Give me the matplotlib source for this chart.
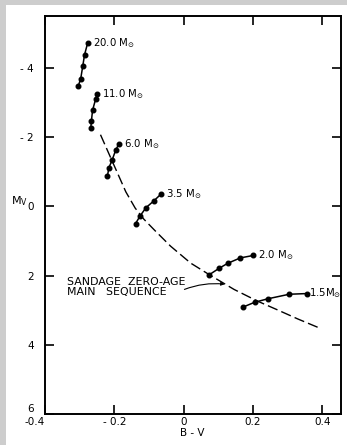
import matplotlib
matplotlib.use("Agg")
import matplotlib.pyplot as plt
from matplotlib.patches import Rectangle

# ---- data ----
bv_20 = [-0.277, -0.286, -0.291, -0.297, -0.304]
mv_20 = [-4.72, -4.38, -4.06, -3.69, -3.48]
bv_11 = [-0.249, -0.254, -0.263, -0.266, -0.268]
mv_11 = [-3.25, -3.10, -2.77, -2.48, -2.26]
bv_6 = [-0.187, -0.196, -0.206, -0.216, -0.220]
mv_6 = [-1.80, -1.63, -1.35, -1.11, -0.87]
bv_35 = [-0.066, -0.086, -0.109, -0.126, -0.139]
mv_35 = [-0.35, -0.16, 0.04, 0.28, 0.50]
bv_2 = [0.200, 0.163, 0.127, 0.102, 0.073]
mv_2 = [1.42, 1.49, 1.645, 1.79, 1.98]
bv_15 = [0.355, 0.304, 0.243, 0.205, 0.171]
mv_15 = [2.52, 2.54, 2.67, 2.77, 2.91]

zams_bv = [-0.240, -0.206, -0.167, -0.140, -0.115, -0.085, -0.038, 0.020,
           0.073, 0.145, 0.213, 0.270, 0.328, 0.390]
zams_mv = [-2.07, -1.30, -0.42, 0.05, 0.37, 0.68, 1.15, 1.64,
           1.97, 2.40, 2.74, 2.99, 3.25, 3.51]

track_labels = ["20.0", "11.0", "6.0", "3.5", "2.0", "1.5"]
tracks_bv = [bv_20, bv_11, bv_6, bv_35, bv_2, bv_15]
tracks_mv = [mv_20, mv_11, mv_6, mv_35, mv_2, mv_15]

xticks = [-0.4, -0.2, 0.0, 0.2, 0.4]
xtick_labels = ["-0.4", "- 0.2", "0", "0.2", "0.4"]
yticks = [-4, -2, 0, 2, 4, 6]
ytick_labels = ["- 4", "- 2", "0", "2", "4", "6"]

# ---- figure ----
fig = plt.figure(figsize=(3.47, 4.45), dpi=100)
fig.patch.set_facecolor("white")
# grey scan border on left and top
fig.patches.append(Rectangle((0, 0), 6 / 347, 1, transform=fig.transFigure,
                             facecolor="#cdcdcd", edgecolor="none", zorder=0))
fig.patches.append(Rectangle((0, 1 - 5 / 445), 1, 5 / 445, transform=fig.transFigure,
                             facecolor="#cdcdcd", edgecolor="none", zorder=0))

ax = fig.add_axes([45 / 347, 1 - 414 / 445, (340.5 - 45) / 347, (414 - 16) / 445])
ax.set_xlim(-0.4, 0.452)
ax.set_ylim(6, -5.5)

# ZAMS dashed line
ax.plot(zams_bv, zams_mv, color="black", lw=1.0, dashes=(7.5, 3))

# evolutionary tracks
for lab, bv, mv in zip(track_labels, tracks_bv, tracks_mv):
    ax.plot(bv, mv, color="black", lw=1.1, marker="o", ms=3.3,
            mfc="black", mec="black")
    sep = " " if lab != "1.5" else ""
    off = 3.5 if lab != "1.5" else 1.5
    ax.annotate(lab + sep + r"M$_{\odot}$", (bv[0], mv[0]),
                xytext=(off, 0), textcoords="offset points",
                ha="left", va="center", fontsize=7.3)

# Sandage label
ax.text(-0.337, 2.34, "SANDAGE  ZERO-AGE\nMAIN   SEQUENCE", fontsize=7.9,
        ha="left", va="center", linespacing=1.0)
ax.annotate("", xy=(0.118, 2.25), xytext=(0.002, 2.40),
            arrowprops=dict(arrowstyle="-|>", lw=0.8, color="black",
                            mutation_scale=5,
                            connectionstyle="arc3,rad=-0.12",
                            shrinkA=0, shrinkB=0))

# ticks & spines
ax.set_xticks(xticks)
ax.set_xticklabels(xtick_labels)
ax.set_yticks(yticks)
ax.set_yticklabels(ytick_labels)
ax.tick_params(direction="in", length=6.5, width=1.2, top=True, right=True,
               labelsize=7.5, pad=2)
ax.tick_params(axis="y", pad=8)
for s in ax.spines.values():
    s.set_linewidth(1.4)
ax.get_yticklabels()[-1].set_verticalalignment("bottom")
ax.get_xticklabels()[0].set_horizontalalignment("right")

ax.set_xlabel("B - V", fontsize=7.5, labelpad=1)
ax.set_ylabel(r"M$_{\rm V}$", fontsize=8, rotation=0, va="center", labelpad=0)
ax.yaxis.set_label_coords(-0.085, 0.535)

fig.savefig("out.png", dpi=100)
